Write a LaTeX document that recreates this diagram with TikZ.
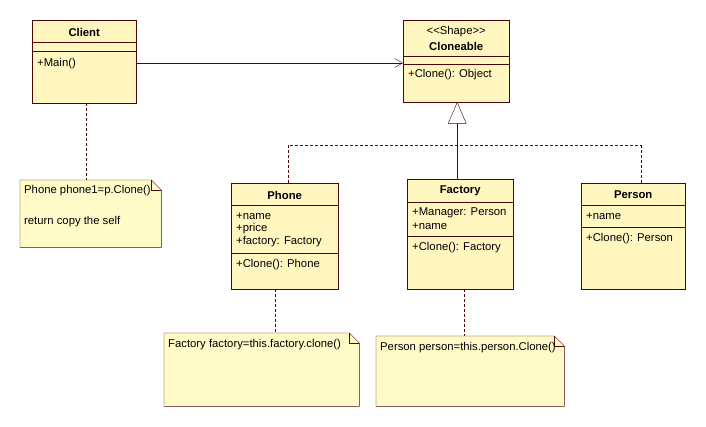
\documentclass[tikz,border=0pt]{standalone}
\usepackage{fontspec}
\setmainfont{Liberation Sans}
\usetikzlibrary{calc}
\usetikzlibrary{arrows.meta}

\definecolor{clsfill}{RGB}{255,246,192}
\definecolor{notefill}{RGB}{255,251,200}
\definecolor{umlline}{RGB}{80,5,5}

\tikzset{
  cls/.style={draw=umlline,fill=clsfill,anchor=north west,inner sep=0pt},
  notebox/.style={anchor=north west,inner sep=0pt},
  txt/.style={inner sep=0pt,font=\fontsize{11.3}{13}\selectfont},
  lbl/.style={txt,anchor=west},
  ttl/.style={txt,font=\bfseries\fontsize{11.3}{13}\selectfont},
  sep/.style={umlline},
  dep/.style={umlline,dash pattern=on 3pt off 2pt},
}

\begin{document}
\begin{tikzpicture}[x=1pt,y=-1pt]

\useasboundingbox[fill=white] (0,0) rectangle (706,427);

% classes
\node[cls,minimum width=104,minimum height=83] (client) at (32,20) {};
\node[ttl] (clientname) at ($(client.north)+(0,12)$) {Client};
\draw[sep] ($(client.north west)+(0,22)$) -- ($(client.north east)+(0,22)$);
\draw[sep] ($(client.north west)+(0,31)$) -- ($(client.north east)+(0,31)$);
\node[lbl] (clientmain) at ($(client.north west)+(5,44)$) {+Main()};

\node[cls,minimum width=106,minimum height=82] (cloneable) at (403,20) {};
\node[txt] (cloneablestereo) at ($(cloneable.north)+(0,12)$) {<{}<Shape>{}>};
\node[ttl] (cloneablename) at ($(cloneable.north)+(0,26)$) {Cloneable};
\draw[sep] ($(cloneable.north west)+(0,36)$) -- ($(cloneable.north east)+(0,36)$);
\draw[sep] ($(cloneable.north west)+(0,44)$) -- ($(cloneable.north east)+(0,44)$);
\node[lbl] (cloneableclone) at ($(cloneable.north west)+(5,55)$) {+Clone(): Object};

\node[cls,minimum width=107,minimum height=106] (phone) at (231,183) {};
\node[ttl] (phonename) at ($(phone.north)+(0,12)$) {Phone};
\draw[sep] ($(phone.north west)+(0,22)$) -- ($(phone.north east)+(0,22)$);
\node[lbl] (phoneattra) at ($(phone.north west)+(5,33)$) {+name};
\node[lbl] (phoneattrb) at ($(phone.north west)+(5,46)$) {+price};
\node[lbl] (phoneattrc) at ($(phone.north west)+(5,59)$) {+factory: Factory};
\draw[sep] ($(phone.north west)+(0,70)$) -- ($(phone.north east)+(0,70)$);
\node[lbl] (phoneclone) at ($(phone.north west)+(5,82)$) {+Clone(): Phone};

\node[cls,minimum width=106,minimum height=110] (factory) at (407,179) {};
\node[ttl] (factoryname) at ($(factory.north)+(0,12)$) {Factory};
\draw[sep] ($(factory.north west)+(0,23)$) -- ($(factory.north east)+(0,23)$);
\node[lbl] (factoryattra) at ($(factory.north west)+(5,34)$) {+Manager: Person};
\node[lbl] (factoryattrb) at ($(factory.north west)+(5,47)$) {+name};
\draw[sep] ($(factory.north west)+(0,57)$) -- ($(factory.north east)+(0,57)$);
\node[lbl] (factoryclone) at ($(factory.north west)+(5,69)$) {+Clone(): Factory};

\node[cls,minimum width=104,minimum height=106] (person) at (581,183) {};
\node[ttl] (personname) at ($(person.north)+(0,12)$) {Person};
\draw[sep] ($(person.north west)+(0,22)$) -- ($(person.north east)+(0,22)$);
\node[lbl] (personattra) at ($(person.north west)+(5,33)$) {+name};
\draw[sep] ($(person.north west)+(0,44)$) -- ($(person.north east)+(0,44)$);
\node[lbl] (personclone) at ($(person.north west)+(5,56)$) {+Clone(): Person};

% notes
\node[notebox,minimum width=141,minimum height=67] (noteclient) at (20,180) {};
\node[notebox,minimum width=195,minimum height=73] (notephone) at (164,333) {};
\node[notebox,minimum width=188,minimum height=70] (notefactory) at (376,336) {};
\foreach \n in {noteclient,notephone,notefactory} {
  \draw[umlline,fill=notefill] (\n.north west) -- ($(\n.north east)+(-10,0)$)
    -- ($(\n.north east)+(0,10)$) -- (\n.south east) -- (\n.south west) -- cycle;
  \draw[umlline] ($(\n.north east)+(-10,0)$) -- ($(\n.north east)+(-10,10)$)
    -- ($(\n.north east)+(0,10)$);
}
\node[lbl] (noteclienta) at ($(noteclient.north west)+(4,11)$) {Phone phone1=p.Clone()};
\node[lbl] (noteclientb) at ($(noteclient.north west)+(4,42)$) {return copy the self};
\node[lbl] (notephonea) at ($(notephone.north west)+(4,12)$) {Factory factory=this.factory.clone()};
\node[lbl] (notefactorya) at ($(notefactory.north west)+(4,12)$) {Person person=this.person.Clone()};

% connectors
\draw[umlline,-{Straight Barb[length=8pt,width=9pt]}] ($(client.north east)+(0,43)$) -- ($(cloneable.north west)+(0,43)$);

\coordinate (tribase) at ($(cloneable.south)+(1,21)$);
\coordinate (junction) at ($(cloneable.south)+(1,43)$);
\draw[dep] (phone.north -| 288,0) |- (junction) -| (person.north -| 641,0);
\draw[umlline] (tribase) -- (tribase |- factory.north);
\draw[umlline,fill=white] ($(cloneable.south)+(1,0)$) -- ($(tribase)+(-9,0)$) -- ($(tribase)+(9,0)$) -- cycle;

\draw[dep] (client.south -| 86,0) -- (noteclient.north -| 86,0);
\draw[dep] (phone.south -| 275,0) -- (notephone.north -| 275,0);
\draw[dep] (factory.south -| 464,0) -- (notefactory.north -| 464,0);

\end{tikzpicture}
\end{document}
